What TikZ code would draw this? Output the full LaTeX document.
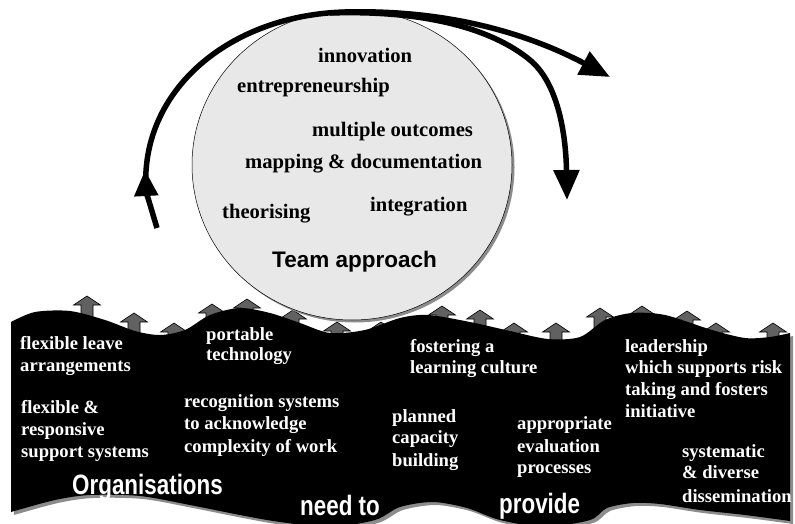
\documentclass[tikz,border=0pt]{standalone}
\usepackage{fontspec}
\setmainfont{Liberation Serif}
\newfontfamily\headfont{Liberation Sans}
\newfontfamily\narrowfont{Liberation Sans}[FakeStretch=0.8]
\usetikzlibrary{arrows.meta,shapes.geometric}

\begin{document}
\begin{tikzpicture}[x=1pt,y=-1pt,
  bigline/.style={line width=5.5pt,black},
  bighead/.style={-{Triangle[length=30pt,width=25pt]}},
  garrow/.style={fill=black!62,draw=black,line width=0.6pt},
  uparrow/.pic={\filldraw[garrow] (-6,45) -- (-6,9) -- (-13.5,9) -- (0,0)
      -- (13.5,9) -- (6,9) -- (6,45) -- cycle;},
  idea/.style={font=\bfseries\fontsize{20.6}{22}\selectfont,text=black,
      anchor=base west,inner sep=0pt},
  item/.style={font=\bfseries\fontsize{18.6}{22}\selectfont,text=white,
      anchor=base west,inner sep=0pt},
  slogan/.style={font=\narrowfont\bfseries\fontsize{28}{30}\selectfont,
      text=white,anchor=base west,inner sep=0pt},
  team/.style={font=\headfont\bfseries\fontsize{22.5}{24}\selectfont,
      text=black,anchor=base west,inner sep=0pt}]

\useasboundingbox (0,0) rectangle (795,524);

% rising grey arrows behind the wave
\foreach \ax/\ay in {87/296,134/313,174/323,212/304,247/299,293/310,337/322,
    381/322,442/306,480/310,514/323,556/323,600/308,642/306,687/311,716/323,773/323}
  \pic at (\ax,\ay) {uparrow};

% team circle with its shadow
\node[ellipse,fill=black!45,minimum width=320pt,minimum height=310pt,inner sep=0pt]
  (teamshadow) at (354.5,167.5) {};
\node[ellipse,draw=black,line width=0.5pt,fill=black!9,minimum width=320pt,
  minimum height=310pt,inner sep=0pt] (teamcircle) at (352,165) {};

% the organisation wave, shadow first
\foreach \off/\col in {3/black!45,0/black}
  \fill[\col,shift={(\off,\off)}]
    plot[smooth,tension=0.5] coordinates {(11,322) (35,312) (70,311) (105,320)
      (135,331) (160,335) (185,330) (210,315) (240,308) (270,313) (300,323)
      (330,333) (365,330) (400,318) (428,315) (470,322) (510,331) (548,339)
      (580,337) (605,320) (632,313) (665,315) (712,330) (745,338) (770,337)
      (790,333)}
    -- plot[smooth,tension=0.5] coordinates {(790,521) (745,515) (700,510)
      (660,504) (633,503) (607,508) (590,520) (545,527) (500,520) (467,508)
      (433,502) (400,507) (375,520) (330,527) (280,522) (240,515) (190,505)
      (140,496) (90,495) (55,500) (11,512)}
    -- cycle;

% texts inside the circle
\node[idea] (innov) at (318,63) {innovation};
\node[idea] (entre) at (237,93) {entrepreneurship};
\node[idea] (multi) at (312,137) {multiple outcomes};
\node[idea] (mapdoc) at (245,168) {mapping \& documentation};
\node[idea] (integ) at (370,211) {integration};
\node[idea] (theor) at (222,218) {theorising};
\node[team] (teamlbl) at (272,267) {Team approach};

% texts on the wave
\node[item] (leave1) at (20,349) {flexible leave};
\node[item] (leave2) at (20,371) {arrangements};
\node[item] (supp1) at (21,413) {flexible \&};
\node[item] (supp2) at (21,435) {responsive};
\node[item] (supp3) at (21,457) {support systems};
\node[item] (tech1) at (206,340) {portable};
\node[item] (tech2) at (206,360) {technology};
\node[item] (recog1) at (184,407) {recognition systems};
\node[item] (recog2) at (184,429) {to acknowledge};
\node[item] (recog3) at (184,452) {complexity of work};
\node[item] (cult1) at (410,352) {fostering a};
\node[item] (cult2) at (410,373) {learning culture};
\node[item] (plan1) at (392,422) {planned};
\node[item] (plan2) at (392,443) {capacity};
\node[item] (plan3) at (392,466) {building};
\node[item] (eval1) at (517,429) {appropriate};
\node[item] (eval2) at (517,452) {evaluation};
\node[item] (eval3) at (517,473) {processes};
\node[item] (lead1) at (625,352) {leadership};
\node[item] (lead2) at (625,373) {which supports risk};
\node[item] (lead3) at (625,395) {taking and fosters};
\node[item] (lead4) at (625,417) {initiative};
\node[item] (diss1) at (682,457) {systematic};
\node[item] (diss2) at (682,478) {\& diverse};
\node[item] (diss3) at (682,502) {dissemination};
\node[slogan] (orgs) at (72,494) {Organisations};
\node[slogan] (needto) at (300,515) {need to};
\node[slogan] (provide) at (499,513) {provide};

% cycle arrows around the circle
\coordinate (loopfoot) at (157,228);
\coordinate (looptip) at (145,170);
\coordinate (loopjoin) at (146,190);
\coordinate (looptop) at (345,12);
\coordinate (outerend) at (610,77);
\coordinate (innerstart) at (330,13);
\coordinate (innerbend) at (530,60);
\coordinate (innerend) at (567,200);

\draw[bigline,-{Triangle[length=26pt,width=23pt]}] (loopfoot)
  .. controls (150,205) and (146,190) .. (looptip);
\draw[bigline,bighead] (loopjoin) .. controls (140,90) and (230,15) .. (looptop)
  .. controls (460,9) and (540,40) .. (outerend);
\draw[bigline,bighead] (innerstart) .. controls (420,10) and (490,27) .. (innerbend)
  .. controls (560,85) and (566,140) .. (innerend);
\end{tikzpicture}
\end{document}
